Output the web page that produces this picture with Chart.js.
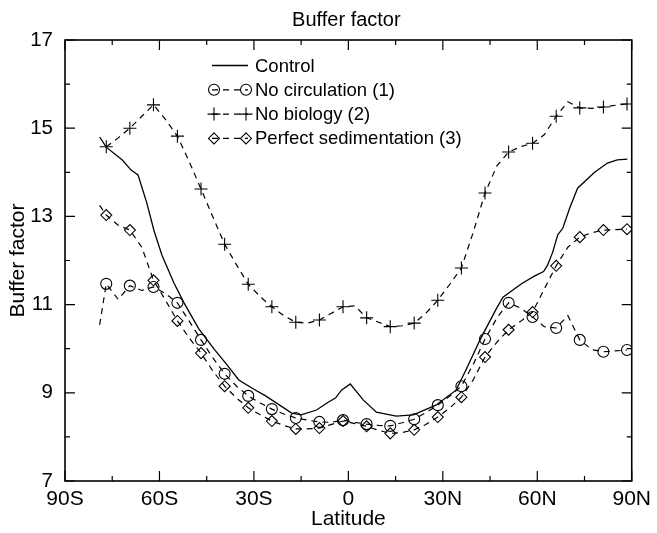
<!DOCTYPE html>
<html>
<head>
<meta charset="utf-8">
<title>Buffer factor</title>
<script src="https://cdn.jsdelivr.net/npm/chart.js@4.4.0/dist/chart.umd.min.js"></script>
<style>
  html, body { margin: 0; padding: 0; background: #fff; }
</style>
</head>
<body>
<canvas id="bufferChart" width="657" height="533"></canvas>
<script>
// latitude grid of the model runs (symbols sit on every second point after the first)
const gridLat = [-79, -76.9, -73.1, -69.4, -65.6, -61.9, -58.1, -54.3, -50.6, -46.8, -43.1,
  -39.3, -35.5, -31.8, -28.0, -24.3, -20.5, -16.7, -13.0, -9.2, -5.5, -1.7, 2.1, 5.8, 9.6,
  13.3, 17.1, 20.9, 24.6, 28.4, 32.1, 35.9, 39.7, 43.4, 47.2, 50.9, 54.7, 58.5, 62.2, 66.0,
  69.7, 73.5, 77.3, 81.0, 84.8, 88.5];

const noCirculation = [10.54, 11.47, 11.12, 11.43, 11.32, 11.40, 11.25, 11.04, 10.63, 10.20, 9.80,
  9.43, 9.15, 8.93, 8.77, 8.63, 8.52, 8.43, 8.38, 8.34, 8.33, 8.38, 8.33, 8.29, 8.26,
  8.25, 8.32, 8.40, 8.55, 8.72, 8.92, 9.15, 9.65, 10.22, 10.70, 11.04, 10.92, 10.72, 10.50, 10.47,
  10.75, 10.20, 9.98, 9.93, 9.95, 9.97];

const noBiology = [null, 14.58, 14.78, 15.00, 15.27, 15.53, 15.20, 14.82, 14.25, 13.62, 13.00,
  12.37, 11.90, 11.46, 11.18, 10.95, 10.75, 10.60, 10.58, 10.65, 10.80, 10.95, 10.97, 10.70, 10.60,
  10.50, 10.52, 10.58, 10.80, 11.10, 11.45, 11.83, 12.65, 13.53, 14.15, 14.46, 14.58, 14.66, 14.85, 15.27,
  15.60, 15.46, 15.45, 15.48, 15.52, 15.55];

const perfectSed = [13.25, 13.03, 12.80, 12.69, 12.30, 11.55, 11.10, 10.63, 10.25, 9.90, 9.50,
  9.15, 8.88, 8.66, 8.50, 8.36, 8.26, 8.18, 8.18, 8.20, 8.28, 8.36, 8.30, 8.24, 8.15,
  8.08, 8.10, 8.16, 8.28, 8.45, 8.65, 8.90, 9.30, 9.81, 10.15, 10.43, 10.62, 10.83, 11.35, 11.88,
  12.30, 12.53, 12.63, 12.69, 12.70, 12.71];

// control run is a plain line, traced on its own points
const controlLat = [-79, -76.9, -71.8, -69.0, -66.8, -64.0, -61.7, -59.2, -55.4, -52.2, -47.5,
  -42.5, -38.6, -34.8, -30.0, -26.3, -18.0, -15.0, -10.1, -6.3, -4.1, -2.2, 0.6, 2.2, 4.7,
  8.9, 15.2, 20.6, 27.8, 34.2, 37.3, 41.8, 46.8, 49.1, 55.1, 59.2, 62.0, 63.3, 64.9, 66.5,
  68.1, 70.3, 72.8, 78.2, 82.3, 85.4, 88.6];
const control = [14.80, 14.57, 14.28, 14.05, 13.94, 13.30, 12.67, 12.12, 11.49, 11.04, 10.45,
  9.98, 9.64, 9.29, 9.08, 8.93, 8.54, 8.50, 8.61, 8.79, 8.88, 9.06, 9.20, 9.06, 8.84,
  8.56, 8.47, 8.50, 8.72, 9.06, 9.51, 10.20, 10.88, 11.17, 11.48, 11.65, 11.75, 11.90, 12.19, 12.58,
  12.73, 13.19, 13.64, 14.00, 14.21, 14.28, 14.30];

const xTicks = [-90, -60, -30, 0, 30, 60, 90];
const yTicks = [7, 9, 11, 13, 15, 17];
const chartTitle = 'Buffer factor';

const FONT = "'Liberation Sans', Arial, Helvetica, sans-serif";

const toPoints = (lats, vals) => lats.map((x, i) => ({ x: x, y: vals[i] }));
const isMarker = i => i > 0 && (i - 1) % 2 === 0;

function dashed(label, vals, style, radius) {
  return {
    label: label,
    data: toPoints(gridLat, vals),
    borderColor: '#000',
    borderWidth: 1.2,
    borderDash: [6, 5],
    pointStyle: style,
    pointRadius: ctx => isMarker(ctx.dataIndex) ? radius : 0,
    pointBorderColor: '#000',
    pointBackgroundColor: 'rgba(0,0,0,0)',
    pointBorderWidth: 1.1,
    legendRadius: radius
  };
}

// inward ticks on all four sides plus the box, and the title over the plot centre
const frameTicks = {
  id: 'frameTicks',
  afterDatasetsDraw(chart) {
    const { ctx, chartArea: a, scales: { x, y } } = chart;
    ctx.save();
    ctx.strokeStyle = '#000';
    ctx.lineWidth = 1.6;
    ctx.strokeRect(a.left, a.top, a.right - a.left, a.bottom - a.top);
    ctx.lineWidth = 1.2;
    ctx.beginPath();
    for (let v = x.min; v <= x.max; v += 15) {
      const len = v % 30 === 0 ? 10 : 5;
      const px = x.getPixelForValue(v);
      ctx.moveTo(px, a.bottom); ctx.lineTo(px, a.bottom - len);
      ctx.moveTo(px, a.top); ctx.lineTo(px, a.top + len);
    }
    for (let v = y.min; v <= y.max; v += 1) {
      const len = (v - 7) % 2 === 0 ? 10 : 5;
      const py = y.getPixelForValue(v);
      ctx.moveTo(a.left, py); ctx.lineTo(a.left + len, py);
      ctx.moveTo(a.right, py); ctx.lineTo(a.right - len, py);
    }
    ctx.stroke();

    ctx.fillStyle = '#000';
    ctx.font = '20px ' + FONT;
    ctx.textAlign = 'center';
    ctx.textBaseline = 'middle';
    ctx.fillText(chartTitle, (a.left + a.right) / 2 - 2, a.top - 20);
    ctx.restore();
  }
};

function marker(ctx, style, r, px, py) {
  ctx.beginPath();
  if (style === 'circle') {
    ctx.arc(px, py, r, 0, Math.PI * 2);
  } else if (style === 'cross') {
    ctx.moveTo(px - r, py); ctx.lineTo(px + r, py);
    ctx.moveTo(px, py - r); ctx.lineTo(px, py + r);
  } else if (style === 'rectRot') {
    ctx.moveTo(px, py - r); ctx.lineTo(px + r, py);
    ctx.lineTo(px, py + r); ctx.lineTo(px - r, py);
    ctx.closePath();
  }
  ctx.stroke();
}

// legend: line sample with a symbol at each end
const sampleLegend = {
  id: 'sampleLegend',
  afterDraw(chart) {
    const { ctx, chartArea: a } = chart;
    const x0 = a.left + 147, x1 = a.left + 183, tx = a.left + 190;
    let ty = a.top + 25.5;
    ctx.save();
    ctx.font = '18.5px ' + FONT;
    ctx.textBaseline = 'middle';
    ctx.fillStyle = '#000';
    ctx.strokeStyle = '#000';
    chart.data.datasets.forEach(ds => {
      ctx.lineWidth = ds.borderWidth;
      ctx.setLineDash(ds.borderDash || []);
      ctx.beginPath();
      ctx.moveTo(x0, ty); ctx.lineTo(x1, ty);
      ctx.stroke();
      ctx.setLineDash([]);
      if (ds.pointStyle) {
        ctx.lineWidth = ds.pointBorderWidth;
        marker(ctx, ds.pointStyle, ds.legendRadius, x0 + 2, ty);
        marker(ctx, ds.pointStyle, ds.legendRadius, x1 - 2, ty);
      }
      ctx.fillText(ds.label, tx, ty + 1);
      ty += 24.3;
    });
    ctx.restore();
  }
};

new Chart(document.getElementById('bufferChart'), {
  type: 'line',
  data: {
    datasets: [
      {
        label: 'Control',
        data: toPoints(controlLat, control),
        borderColor: '#000',
        borderWidth: 1.3,
        pointRadius: 0
      },
      dashed('No circulation (1)', noCirculation, 'circle', 5.5),
      dashed('No biology (2)', noBiology, 'cross', 6.5),
      dashed('Perfect sedimentation (3)', perfectSed, 'rectRot', 5.5)
    ]
  },
  options: {
    responsive: false,
    animation: false,
    layout: { padding: { top: 40, right: 23, bottom: 0, left: 0 } },
    elements: { line: { tension: 0 } },
    plugins: {
      legend: { display: false },
      tooltip: { enabled: false },
      title: { display: false }
    },
    scales: {
      x: {
        type: 'linear',
        min: -90,
        max: 90,
        afterBuildTicks: s => { s.ticks = xTicks.map(v => ({ value: v })); },
        afterFit: s => { s.height = 52; },
        grid: { display: false, drawTicks: false },
        border: { display: false },
        ticks: {
          color: '#000',
          padding: 6,
          maxRotation: 0,
          font: { family: FONT, size: 21 },
          callback: v => v === 0 ? '0' : (v < 0 ? (-v) + 'S' : v + 'N')
        },
        title: {
          display: true,
          text: 'Latitude',
          color: '#000',
          font: { family: FONT, size: 21 },
          padding: { top: 0, bottom: 1 }
        }
      },
      y: {
        min: 7,
        max: 17,
        afterBuildTicks: s => { s.ticks = yTicks.map(v => ({ value: v })); },
        afterFit: s => { s.width = 65; },
        grid: { display: false, drawTicks: false },
        border: { display: false },
        ticks: {
          color: '#000',
          padding: 12,
          font: { family: FONT, size: 20.5 }
        },
        title: {
          display: true,
          text: 'Buffer factor',
          color: '#000',
          font: { family: FONT, size: 21 },
          padding: { top: 6, bottom: 0 }
        }
      }
    }
  },
  plugins: [frameTicks, sampleLegend]
});
</script>
</body>
</html>
